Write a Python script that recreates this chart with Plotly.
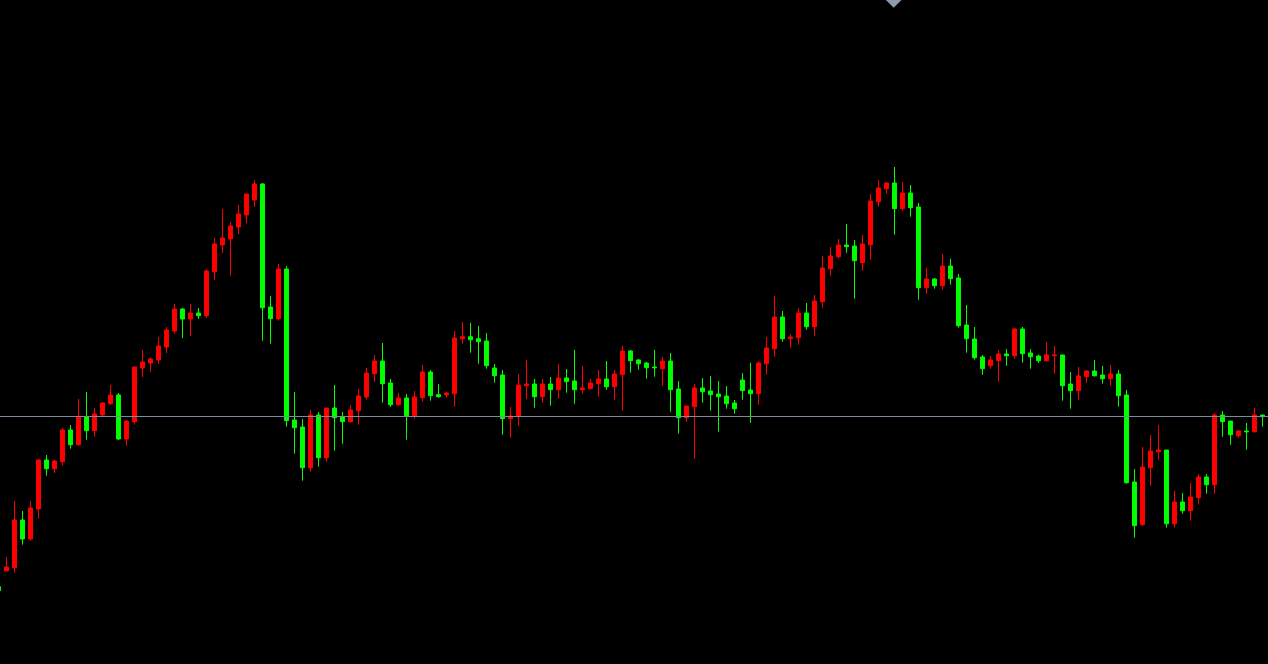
import plotly.graph_objects as go

# Bar index (one per session)
idx = list(range(159))

open_ = [77.3, 93, 96.3, 144, 125, 155, 204, 195.3, 202.3, 234, 219.3, 247, 233.3, 249, 260.3, 269, 225, 242.3, 296, 301,
         304, 317, 333, 355, 345, 351, 348.3, 392.3, 419, 425, 437, 449, 464, 480, 357, 345.3, 395, 244, 237, 196.3,
         249, 206.3, 256, 247.3, 242.3, 253.3, 267, 290.3, 303, 281, 259.3, 266, 248.3, 266.3, 292, 269.3, 269, 270.3, 325.3, 327.3,
         325.3, 323, 296, 289, 245.3, 247.3, 278.3, 280, 267.3, 280, 274.3, 286, 283, 274.3, 275.3, 280.3, 285, 277.3, 289.3, 313,
         304, 301, 297, 295.3, 303, 275, 246.3, 257.3, 276, 273, 270, 268, 261, 284, 274, 270.3, 300.3, 315.3, 347, 325.3,
         326.3, 351, 337.3, 362.3, 395.3, 407.3, 419, 418, 401.3, 419.3, 462.3, 475.3, 481, 455.3, 471, 457, 376.3, 385, 378.3, 398,
         386, 339, 325, 307, 298.3, 303.3, 310, 308.3, 335, 311, 308, 303.3, 308.3, 309, 280, 273.3, 287.3, 293, 289, 285.3,
         290, 269, 182, 139.3, 196.3, 212.3, 214, 140.3, 162, 153.3, 166.3, 187, 179.3, 249, 243, 228.3, 233, 232.3, 249]
high = [79, 107, 163, 153, 163, 205, 209, 204, 236, 239, 265, 272, 256, 262, 279, 271, 243, 297, 314, 307,
        327, 337, 360, 356, 360, 356, 395, 426, 455, 442, 459, 470, 484, 481, 368, 400, 398, 272, 245, 254,
        252, 256, 279, 252, 259, 275, 296, 309, 321, 285, 271, 270, 273, 299, 294, 280, 272.3, 333, 342, 341,
        338, 331, 300, 294, 257, 290, 304, 285, 285, 287, 300, 295, 314, 298, 285, 294, 303, 294, 318, 314,
        305, 302, 314, 307, 311, 283, 258, 280, 286, 288, 283, 278, 264, 291, 301, 303, 327, 368, 353, 330,
        356, 361, 369, 408, 417, 425, 440, 424, 429, 470, 484, 482, 497, 482, 479, 461, 396.3, 386, 410, 405,
        390, 359, 337, 309, 308, 314, 315, 336, 337, 315, 309.3, 322, 318, 309, 292, 297, 294, 304, 298, 299,
        294, 274, 195, 217, 229, 239, 214, 173, 171, 181, 190, 190, 251, 253, 243, 234, 241, 256, 249]
low = [72, 93, 91.3, 119.3, 123.3, 145.3, 188.3, 191, 198.3, 215.3, 218.3, 224.3, 227.3, 248, 259.3, 224, 218.3, 239.3, 287, 292,
       300, 311, 330.3, 326, 328, 345, 346, 384.3, 411, 388.3, 430, 441, 457, 323.3, 320.3, 343.3, 237.3, 210.3, 183.3, 192.3,
       197.3, 202.3, 213.3, 220.3, 241.3, 239.3, 264.3, 282.3, 261.3, 257.3, 258.3, 224.3, 245.3, 262.3, 263.3, 266.3, 266.3, 257.3, 320.3, 311.3,
       300.3, 295.3, 281.3, 229.3, 226.3, 238.3, 265, 256.3, 261.3, 258.3, 265.3, 271.3, 260.3, 270.3, 275.3, 267.3, 274.3, 264.3, 253.3, 291.3,
       294.3, 285.3, 287.3, 278.3, 252.3, 230.3, 242.3, 205.3, 261.3, 253.3, 232.3, 255.3, 250.3, 264.3, 241.3, 259.3, 289.3, 307.3, 322.3, 316.3,
       319.3, 334.3, 328.3, 356.3, 388.3, 405.3, 411.3, 365.3, 393.3, 404.3, 457.3, 470.3, 429.3, 453.3, 447.3, 364.3, 370.3, 375.3, 374.3, 379.3,
       336.3, 311.3, 304.3, 289.3, 295.3, 282.3, 298.3, 305.3, 301.3, 295.3, 301.3, 302.3, 290.3, 263.3, 255.3, 264.3, 281.3, 287.3, 280.3, 278.3,
       257.3, 180.3, 126.3, 138.3, 178.3, 204.3, 136.3, 136.3, 150.3, 143.3, 160.3, 170.3, 170.3, 227.3, 219.3, 226.3, 214.3, 231.3, 237.3]
close = [73.3, 97, 144, 125, 156, 204, 195.3, 203, 234, 219.3, 247, 233.3, 250, 261, 269, 225, 243, 297, 302, 305,
         318, 334, 355, 345, 351, 348.3, 393, 420, 426, 438, 450, 470, 480, 356.3, 345.3, 395, 243.3, 236.3, 196.3, 249,
         206.3, 256, 246.3, 242.3, 254, 268, 291, 303, 280.3, 259.3, 266, 248.3, 267, 292, 268.3, 267.3, 271, 326, 327.3, 324.3,
         322.3, 298.3, 288.3, 245.3, 248, 279, 280, 267.3, 280, 274.3, 286, 282.3, 274.3, 276, 281, 285, 277.3, 290, 313, 303.3,
         300.3, 296.3, 296.3, 303, 274.3, 246.3, 258, 276, 272.3, 269.3, 267.3, 260.3, 255.3, 273.3, 270.3, 301, 316, 347, 325.3, 327,
         351, 337.3, 363, 396, 408, 419, 417.3, 403.3, 420, 463, 476, 481, 455.3, 471, 456.3, 376.3, 385, 378.3, 398, 385.3,
         338.3, 325.3, 306.3, 295.3, 304, 310, 308.3, 335, 310.3, 307.3, 303.3, 309, 309, 278.3, 273.3, 288, 293, 288.3, 285.3, 290,
         268.3, 181.3, 138.3, 197, 213, 214, 140.3, 162, 153.3, 167, 187, 179.3, 249, 242.3, 229.3, 233, 232.3, 249, 247.3]

ref_level = 247.5        # horizontal reference price line
axis_min, axis_max = 0, 664
x_start = 0.1875         # visible window over bar indices
x_end = x_start + 158.5

fig = go.Figure()
fig.add_trace(go.Candlestick(
    x=idx, open=open_, high=high, low=low, close=close,
    increasing=dict(line=dict(color="#FF0000", width=1), fillcolor="#FF0000"),
    decreasing=dict(line=dict(color="#00FF00", width=1), fillcolor="#00FF00"),
    whiskerwidth=0, showlegend=False, hoverinfo="skip",
))

# marker at the highest high
imax = max(range(len(high)), key=lambda i: high[i])
fig.add_trace(go.Scatter(
    x=[idx[imax] - 0.1], y=[axis_max], mode="markers",
    marker=dict(symbol="diamond", size=12, color="#8C9BAD"),
    showlegend=False, hoverinfo="skip", cliponaxis=True,
))

fig.add_shape(type="line", xref="paper", x0=0, x1=1, yref="y", y0=ref_level, y1=ref_level,
              line=dict(color="#7C8A9C", width=1))

fig.update_layout(
    width=1268, height=664,
    margin=dict(l=0, r=0, t=0, b=0),
    paper_bgcolor="#000000", plot_bgcolor="#000000",
    xaxis=dict(range=[x_start, x_end], visible=False, rangeslider=dict(visible=False), fixedrange=True),
    yaxis=dict(range=[axis_min, axis_max], visible=False, fixedrange=True),
    showlegend=False,
)

fig.write_html(
    "out.html",
    config={"displayModeBar": False},
    post_script="document.body.style.margin='0';document.body.style.padding='0';"
                "document.body.style.background='#000000';document.body.style.overflow='hidden';",
)
